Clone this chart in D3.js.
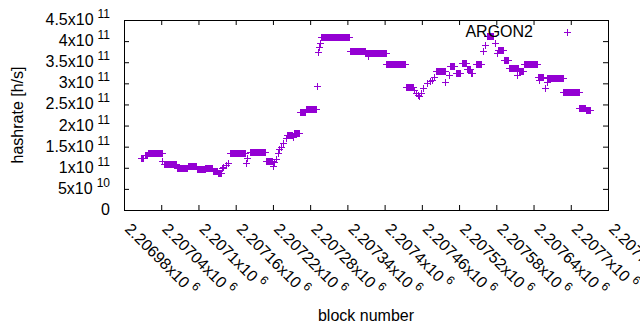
<!DOCTYPE html>
<html>
<head>
<meta charset="utf-8">
<script src="https://cdn.jsdelivr.net/npm/d3@7"></script>
<style>
  body { margin: 0; background: #fff; }
  text { font-family: "Liberation Sans", Arial, sans-serif; fill: #000; }
</style>
</head>
<body>
<div id="chart"></div>
<script>
// runs of consecutive blocks sharing the same hashrate estimate
const runFirst = [2207008, 2207014, 2207018, 2207042, 2207044, 2207065, 2207083, 2207098, 2207111, 2207123,
                  2207131, 2207138, 2207140, 2207144, 2207148, 2207151, 2207177, 2207179, 2207183, 2207209,
                  2207220, 2207221, 2207225, 2207228, 2207230, 2207233, 2207237, 2207241, 2207243, 2207252,
                  2207254, 2207264, 2207273, 2207291, 2207292, 2207295, 2207296, 2207297, 2207344, 2207369,
                  2207373, 2207403, 2207434, 2207447, 2207450, 2207454, 2207456, 2207459, 2207462, 2207468,
                  2207473, 2207477, 2207480, 2207483, 2207498, 2207503, 2207505, 2207515, 2207525, 2207533,
                  2207539, 2207547, 2207559, 2207562, 2207565, 2207578, 2207581, 2207582, 2207592, 2207600,
                  2207614, 2207616, 2207625, 2207647, 2207648, 2207658, 2207661, 2207662, 2207688, 2207714,
                  2207724]
const runLast  = [2207010, 2207017, 2207041, 2207042, 2207064, 2207082, 2207096, 2207110, 2207122, 2207130,
                  2207136, 2207138, 2207140, 2207144, 2207148, 2207175, 2207177, 2207179, 2207208, 2207219,
                  2207220, 2207221, 2207225, 2207228, 2207230, 2207233, 2207237, 2207241, 2207251, 2207252,
                  2207262, 2207272, 2207290, 2207291, 2207292, 2207295, 2207296, 2207343, 2207368, 2207402,
                  2207373, 2207433, 2207446, 2207447, 2207450, 2207454, 2207456, 2207459, 2207462, 2207468,
                  2207473, 2207477, 2207480, 2207497, 2207498, 2207503, 2207512, 2207522, 2207531, 2207538,
                  2207541, 2207556, 2207559, 2207562, 2207575, 2207578, 2207581, 2207591, 2207599, 2207615,
                  2207614, 2207623, 2207646, 2207655, 2207648, 2207658, 2207661, 2207687, 2207713, 2207723,
                  2207731]
const runHash  = [1.22e11, 1.30e11, 1.35e11, 1.15e11, 1.09e11, 0.995e11, 1.05e11, 0.96e11, 0.99e11, 0.92e11,
                  0.875e11, 0.99e11, 1.03e11, 1.07e11, 1.11e11, 1.36e11, 1.11e11, 1.22e11, 1.37e11, 1.15e11,
                  1.05e11, 1.14e11, 1.21e11, 1.34e11, 1.44e11, 1.50e11, 1.58e11, 1.70e11, 1.78e11, 1.72e11,
                  1.82e11, 2.31e11, 2.40e11, 2.93e11, 3.75e11, 3.86e11, 3.95e11, 4.09e11, 3.77e11, 3.73e11,
                  3.65e11, 3.45e11, 2.92e11, 2.84e11, 2.78e11, 2.73e11, 2.70e11, 2.77e11, 2.88e11, 3.00e11,
                  3.05e11, 3.09e11, 3.15e11, 3.29e11, 3.04e11, 3.20e11, 3.41e11, 3.24e11, 3.49e11, 3.33e11,
                  3.25e11, 3.46e11, 3.77e11, 3.91e11, 4.12e11, 3.95e11, 3.71e11, 3.79e11, 3.55e11, 3.36e11,
                  3.20e11, 3.29e11, 3.45e11, 3.16e11, 3.08e11, 2.88e11, 3.04e11, 3.12e11, 2.80e11, 2.41e11,
                  2.37e11]

const blockTicks = [2206980, 2207040, 2207100, 2207160, 2207220, 2207280, 2207340,
                    2207400, 2207460, 2207520, 2207580, 2207640, 2207700, 2207760]
const hashTicks = [0, 5e10, 1e11, 1.5e11, 2e11, 2.5e11, 3e11, 3.5e11, 4e11, 4.5e11]
const seriesName = "ARGON2"

const width = 640
const height = 330
const margin = { top: 20, right: 32, bottom: 120, left: 124 }
const color = "#9400d3"

const svg = d3.select("#chart").append("svg").attr("width", width).attr("height", height)

const x = d3.scaleLinear()
            .domain([blockTicks[0], blockTicks[blockTicks.length - 1]])
            .range([margin.left, width - margin.right])
const y = d3.scaleLinear()
            .domain([hashTicks[0], hashTicks[hashTicks.length - 1]])
            .range([height - margin.bottom, margin.top])

const points = []
runFirst.forEach((first, i) => {
    for (let b = first; b <= runLast[i]; b++) points.push({ block: b, hash: runHash[i] })
})

// ticks point inwards on all four sides, as gnuplot does
const tick = 5
svg.append("g").attr("transform", `translate(0,${height - margin.bottom})`)
   .call(d3.axisBottom(x).tickValues(blockTicks).tickSize(-tick).tickFormat(""))
svg.append("g").attr("transform", `translate(0,${margin.top})`)
   .call(d3.axisTop(x).tickValues(blockTicks).tickSize(-tick).tickFormat(""))
svg.append("g").attr("transform", `translate(${margin.left},0)`)
   .call(d3.axisLeft(y).tickValues(hashTicks).tickSize(-tick).tickFormat(""))
svg.append("g").attr("transform", `translate(${width - margin.right},0)`)
   .call(d3.axisRight(y).tickValues(hashTicks).tickSize(-tick).tickFormat(""))
svg.selectAll(".domain").remove()
svg.selectAll(".tick line").attr("stroke", "#000")

svg.append("rect")
   .attr("x", margin.left + 0.5).attr("y", margin.top + 0.5)
   .attr("width", width - margin.left - margin.right)
   .attr("height", height - margin.top - margin.bottom)
   .attr("fill", "none").attr("stroke", "#000")

function sci(v) {
    if (v === 0) return null
    const e = Math.floor(Math.log10(v) + 1e-9)
    return { m: String(+(v / Math.pow(10, e)).toFixed(5)), e: String(e) }
}

// y labels
hashTicks.forEach(v => {
    const t = svg.append("text")
                 .attr("x", margin.left - 14)
                 .attr("y", y(v) + 5)
                 .attr("text-anchor", "end")
                 .style("font-size", "16px")
    const s = sci(v)
    if (!s) { t.text("0"); return }
    t.append("tspan").text(s.m + "x10")
    t.append("tspan").attr("dx", 4).attr("dy", -7).style("font-size", "12px").text(s.e)
})

// x labels, rotated 45 degrees
blockTicks.forEach(v => {
    const s = sci(v)
    const t = svg.append("text")
                 .attr("transform", `translate(${x(v)},${height - margin.bottom + 20}) rotate(45)`)
                 .style("font-size", "16px")
    t.append("tspan").text(s.m + "x10")
    t.append("tspan").attr("dx", 4).attr("dy", -7).style("font-size", "12px").text(s.e)
})

svg.append("text")
   .attr("transform", `translate(23,${(margin.top + height - margin.bottom) / 2}) rotate(-90)`)
   .attr("text-anchor", "middle")
   .style("font-size", "16px")
   .text("hashrate [h/s]")

svg.append("text")
   .attr("x", (margin.left + width - margin.right) / 2)
   .attr("y", 321)
   .attr("text-anchor", "middle")
   .style("font-size", "16px")
   .text("block number")

const plus = (cx, cy) => `M${cx - 3.5},${cy}h7M${cx},${cy - 3.5}v7`

svg.append("g")
   .selectAll("path")
   .data(points)
   .enter()
   .append("path")
   .attr("d", d => plus(Math.round(x(d.block)) + 0.5, Math.round(y(d.hash)) + 0.5))
   .attr("stroke", color)
   .attr("stroke-width", 1)
   .attr("fill", "none")

// key
svg.append("text")
   .attr("x", 533).attr("y", 37)
   .attr("text-anchor", "end")
   .style("font-size", "16px")
   .text(seriesName)
svg.append("path").attr("d", plus(567.5, 32.5)).attr("stroke", color).attr("fill", "none")
</script>
</body>
</html>
